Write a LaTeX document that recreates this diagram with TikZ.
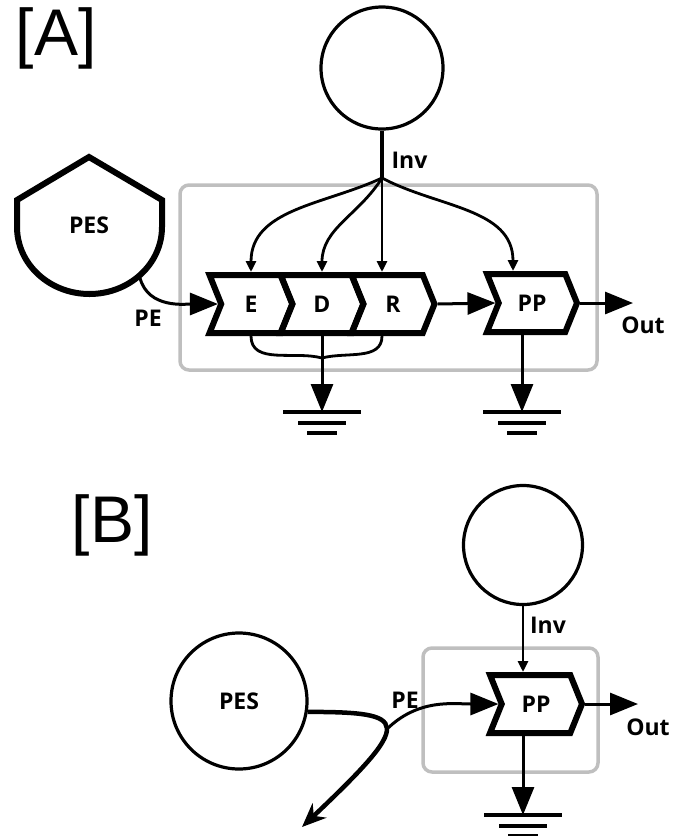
\documentclass[tikz,border=0pt]{standalone}
\usepackage{fontspec}
\setmainfont{Open Sans}
\newfontfamily\panelfont{Liberation Sans}
\usetikzlibrary{shapes.symbols,arrows.meta}

\newcommand\groundsym[1]{%
  \draw[gnd] ([xshift=-39pt]#1) -- ([xshift=39pt]#1)
             ([xshift=-24pt,yshift=-11pt]#1) -- ([xshift=24pt,yshift=-11pt]#1)
             ([xshift=-15pt,yshift=-21pt]#1) -- ([xshift=15pt,yshift=-21pt]#1);}

\begin{document}
\begin{tikzpicture}[x=1pt,y=1pt,font=\fontsize{23}{26}\selectfont\bfseries]
    \tikzstyle{stage}=[signal,signal from=west,signal to=east,signal pointer angle=136,
                       draw=black,line width=6pt,minimum width=83pt,minimum height=58pt,inner sep=0pt]
    \tikzstyle{pool}=[circle,draw=black,line width=3.2pt,inner sep=0pt]
    \tikzstyle{frame}=[draw=black!25,line width=3.5pt,rounded corners=9pt]
    \tikzstyle{conn}=[line width=3pt,-{Triangle[length=28pt,width=22pt]}]
    \tikzstyle{inv}=[line width=2.8pt,-{Triangle[length=11pt,width=10pt]}]
    \tikzstyle{gnd}=[draw=black,line width=3.2pt]
    \tikzstyle{panel}=[font=\panelfont\fontsize{66}{70}\selectfont]

    \useasboundingbox (0,0) rectangle (678,-836);

    % Panel labels
    \node[panel] (labA) at (56,-38) {[A]};
    \node[panel] (labB) at (112,-525) {[B]};

    % Draw the grey frames
    \draw[frame] (180,-185) rectangle (597,-370);
    \draw[frame] (423,-648) rectangle (598,-772);

    % ---------- Panel A ----------
    \node[pool,minimum size=122pt] (invA) at (382,-68) {};
    \draw[line width=6pt,line join=miter] (17,-200) -- (89,-157) -- (162,-200) -- (162,-227)
        arc[start angle=0,end angle=-180,x radius=72.5,y radius=67] -- cycle;
    \node (pesA) at (89,-225) {PES};

    % Draw the stages
    \foreach \name/\x in {E/251,D/322,R/393}
        \node[stage] (\name) at (\x,-304) {\name};
    \node[stage,minimum width=90pt] (PPA) at (532,-303) {PP};
    \coordinate (ppA-top) at ([xshift=-19pt]PPA.north);
    \coordinate (ppA-bot) at ([xshift=-10pt]PPA.south);

    % Inv fans out over the stages
    \coordinate (branchA) at (382,-178);
    \draw[line width=4pt] (invA.south) -- (branchA);
    \draw[inv] (branchA) to[out=205,in=90] (E.north);
    \draw[inv] (branchA) to[out=238,in=90] (D.north);
    \draw[inv] (branchA) -- (branchA |- R.north);
    \draw[inv] (branchA) to[out=-28,in=90] (ppA-top);
    \node[anchor=west] (invlabA) at (388,-160) {Inv};

    % PE input and the chain
    \coordinate (pesA-out) at (140,-278);
    \draw[conn] (pesA-out) to[out=-75,in=180] (E.west);
    \node (pelabA) at (148,-318) {PE};
    \draw[conn] (R.east) -- (PPA.west);
    \coordinate (outA) at (633,-303);
    \draw[conn] (PPA.east) -- (outA);
    \node (outlabA) at (643,-325) {Out};

    % Grounds
    \coordinate (mergeA) at (D.south |- 0,-358);
    \coordinate (gndA) at (D.south |- 0,-412);
    \draw[line width=2.8pt] (E.south) to[out=-90,in=165] (mergeA);
    \draw[line width=2.8pt] (branchA |- R.south) to[out=-90,in=15] (mergeA);
    \draw[conn] (D.south) -- (gndA);
    \groundsym{gndA}
    \coordinate (gndPPA) at (ppA-bot |- 0,-412);
    \draw[conn] (ppA-bot) -- (gndPPA);
    \groundsym{gndPPA}

    % ---------- Panel B ----------
    \node[pool,minimum size=119pt] (invB) at (523,-545) {};
    \node[pool,minimum size=136pt] (pesB) at (239,-701) {PES};
    \node[stage,minimum width=92pt] (PPB) at (536,-704) {PP};

    \draw[inv] (invB.south) -- (invB.south |- PPB.north);
    \node (invlabB) at (548,-625) {Inv};

    % PES drains away, PE branches off to PP
    \coordinate (endB) at (302,-827);
    \draw[line width=4.5pt,-{Stealth[length=24pt,width=20pt]}] (pesB.-9)
        .. controls (410,-712) and (415,-720) .. (endB);
    \coordinate (peB) at (386,-730);
    \draw[conn] (peB) to[out=45,in=180] (PPB.west);
    \node (pelabB) at (405,-700) {PE};

    \coordinate (outB) at (638,-704);
    \draw[conn] (PPB.east) -- (outB);
    \node (outlabB) at (648,-727) {Out};

    \coordinate (gndB) at (invB.south |- 0,-815);
    \draw[conn] (invB.south |- PPB.south) -- (gndB);
    \groundsym{gndB}
\end{tikzpicture}
\end{document}
